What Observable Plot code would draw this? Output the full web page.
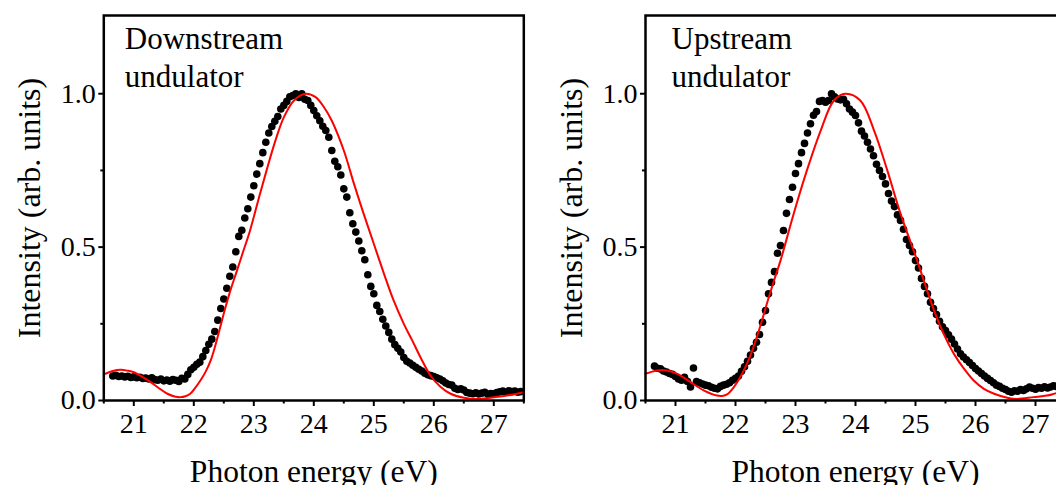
<!DOCTYPE html>
<html><head><meta charset="utf-8">
<script src="https://cdn.jsdelivr.net/npm/d3@7"></script>
<script src="https://cdn.jsdelivr.net/npm/@observablehq/plot@0.6"></script>
<style>
html,body{margin:0;padding:0;background:#fff;overflow:hidden;width:1056px;height:485px;}
#wrap{position:relative;width:1056px;height:485px;overflow:hidden;background:#fff;}
.panel{position:absolute;top:0;width:540px;height:485px;}
#wrap svg{max-width:none !important;font-family:"Liberation Serif","Times New Roman",Times,serif !important;}
#wrap svg text, #wrap svg tspan{font-family:"Liberation Serif","Times New Roman",Times,serif !important;}
</style></head>
<body><div id="wrap"><div id="p1" class="panel" style="left:0px"></div><div id="p2" class="panel" style="left:540px"></div></div>
<script>
// Photon energies of the measured points (eV)
const energies = [
  20.65,20.70,20.75,20.80,20.85,20.90,20.95,21.00,21.05,21.10,
  21.15,21.20,21.25,21.30,21.35,21.40,21.45,21.50,21.55,21.60,
  21.65,21.70,21.75,21.80,21.85,21.90,21.95,22.00,22.05,22.10,
  22.15,22.20,22.25,22.30,22.35,22.40,22.45,22.50,22.55,22.60,
  22.65,22.70,22.75,22.80,22.85,22.90,22.95,23.00,23.05,23.10,
  23.15,23.20,23.25,23.30,23.35,23.40,23.45,23.50,23.55,23.60,
  23.65,23.70,23.75,23.80,23.85,23.90,23.95,24.00,24.05,24.10,
  24.15,24.20,24.25,24.30,24.35,24.40,24.45,24.50,24.55,24.60,
  24.65,24.70,24.75,24.80,24.85,24.90,24.95,25.00,25.05,25.10,
  25.15,25.20,25.25,25.30,25.35,25.40,25.45,25.50,25.55,25.60,
  25.65,25.70,25.75,25.80,25.85,25.90,25.95,26.00,26.05,26.10,
  26.15,26.20,26.25,26.30,26.35,26.40,26.45,26.50,26.55,26.60,
  26.65,26.70,26.75,26.80,26.85,26.90,26.95,27.00,27.05,27.10,
  27.15,27.20,27.25,27.30,27.35,27.40,27.45
];
// Downstream undulator: measured intensity
const downstreamMeasured = [
  0.080,0.082,0.078,0.080,0.077,0.079,0.075,0.077,0.074,0.076,
  0.072,0.073,0.070,0.074,0.068,0.066,0.070,0.064,0.067,0.063,
  0.068,0.066,0.062,0.072,0.070,0.085,0.100,0.108,0.118,0.125,
  0.143,0.163,0.183,0.200,0.225,0.262,0.300,0.331,0.366,0.405,
  0.435,0.485,0.535,0.555,0.595,0.625,0.663,0.700,0.738,0.772,
  0.808,0.842,0.872,0.893,0.910,0.926,0.950,0.962,0.975,0.990,
  0.994,1.000,0.988,1.000,0.982,0.978,0.962,0.945,0.928,0.912,
  0.894,0.880,0.858,0.815,0.780,0.762,0.735,0.690,0.663,0.612,
  0.576,0.549,0.520,0.488,0.459,0.410,0.372,0.348,0.310,0.290,
  0.265,0.243,0.222,0.200,0.182,0.170,0.158,0.140,0.128,0.122,
  0.115,0.108,0.102,0.096,0.089,0.084,0.081,0.078,0.074,0.070,
  0.064,0.057,0.052,0.050,0.040,0.036,0.038,0.034,0.026,0.024,
  0.022,0.025,0.021,0.024,0.027,0.020,0.023,0.022,0.026,0.028,
  0.031,0.027,0.032,0.029,0.031,0.027,0.029
];
// Upstream undulator: measured intensity
const upstreamMeasured = [
  0.112,0.105,0.103,0.096,0.093,0.088,0.085,0.078,0.070,0.066,
  0.076,0.062,0.044,0.106,0.062,0.058,0.054,0.050,0.048,0.043,
  0.040,0.038,0.046,0.050,0.053,0.058,0.066,0.072,0.080,0.095,
  0.110,0.128,0.148,0.170,0.190,0.215,0.255,0.293,0.348,0.385,
  0.420,0.480,0.505,0.554,0.610,0.655,0.695,0.740,0.772,0.808,
  0.838,0.872,0.902,0.930,0.942,0.975,0.978,0.972,0.978,1.000,
  0.990,0.983,0.980,0.982,0.967,0.950,0.940,0.929,0.905,0.878,
  0.862,0.842,0.820,0.798,0.770,0.750,0.730,0.706,0.675,0.650,
  0.632,0.605,0.587,0.558,0.525,0.505,0.485,0.456,0.432,0.398,
  0.372,0.348,0.320,0.300,0.280,0.258,0.240,0.228,0.214,0.200,
  0.184,0.168,0.152,0.142,0.133,0.124,0.114,0.104,0.096,0.088,
  0.080,0.072,0.065,0.058,0.050,0.046,0.040,0.036,0.030,0.027,
  0.032,0.030,0.036,0.033,0.038,0.044,0.040,0.037,0.042,0.040,
  0.045,0.041,0.044,0.048,0.046,0.044,0.047
];
// Calculated spectra (red curves)
const downstreamCalcE = [20.50,20.65,20.78,20.90,21.00,21.15,21.28,21.42,21.56,21.68,21.78,21.86,21.94,22.02,22.11,22.20,22.28,22.36,22.44,22.52,22.61,22.70,22.80,22.94,23.08,23.22,23.36,23.50,23.67,23.86,24.03,24.17,24.30,24.50,24.67,24.83,25.00,25.17,25.33,25.50,25.64,25.78,25.95,26.11,26.28,26.50,26.72,26.94,27.22,27.50];
const downstreamCalcV = [0.085,0.096,0.100,0.097,0.092,0.076,0.060,0.040,0.022,0.013,0.011,0.014,0.022,0.040,0.065,0.095,0.130,0.180,0.239,0.298,0.359,0.412,0.472,0.556,0.657,0.755,0.847,0.923,0.978,1.000,0.989,0.956,0.912,0.815,0.706,0.609,0.511,0.413,0.326,0.250,0.196,0.140,0.080,0.045,0.022,0.009,0.005,0.009,0.016,0.027];
const upstreamCalcE = [20.50,20.69,20.86,21.03,21.25,21.47,21.69,21.78,21.86,21.97,22.11,22.25,22.39,22.53,22.64,22.75,22.97,23.19,23.42,23.64,23.83,24.08,24.31,24.53,24.75,25.03,25.14,25.31,25.47,25.64,25.81,25.97,26.14,26.31,26.53,26.69,26.97,27.19,27.35,27.50];
const upstreamCalcV = [0.087,0.098,0.098,0.087,0.060,0.033,0.016,0.015,0.020,0.043,0.087,0.147,0.228,0.320,0.390,0.456,0.609,0.750,0.880,0.978,1.000,0.978,0.880,0.750,0.609,0.455,0.390,0.293,0.217,0.152,0.103,0.065,0.038,0.022,0.009,0.005,0.011,0.016,0.024,0.030];

const xMajorTicks = [21, 22, 23, 24, 25, 26, 27];
const xMinorTicks = [20.5, 21.5, 22.5, 23.5, 24.5, 25.5, 26.5, 27.5];
const yMajorTicks = [0, 0.5, 1.0];
const yMinorTicks = [0.25, 0.75];
const xTitle = "Photon energy (eV)";
const yTitle = "Intensity (arb. units)";
const serif = '"Liberation Serif", "Times New Roman", Times, serif';

function panel(el, cfg) {
  const dots = energies.map((e, i) => ({e, v: cfg.measured[i]}));
  const fit = cfg.calcE.map((e, i) => ({e, v: cfg.calcV[i]}));
  const W = 540, plotW = 420;
  const chart = Plot.plot({
    width: W, height: 485,
    marginLeft: cfg.ml, marginRight: W - cfg.ml - plotW, marginTop: 15, marginBottom: 85,
    style: {fontFamily: serif, color: "black", background: "white", overflow: "visible", maxWidth: "none"},
    x: {domain: [20.5, 27.5], label: null},
    y: {domain: [0, 1.255], label: null},
    marks: [
      Plot.dot(dots, {x: "e", y: "v", r: 3.8, fill: "black", stroke: "none"}),
      Plot.line(fit, {x: "e", y: "v", stroke: "#ff0000", strokeWidth: 2, curve: "catmull-rom"}),
      Plot.frame({stroke: "black", strokeWidth: 2.5}),
      Plot.axisX(xMajorTicks, {tickSize: 6, tickPadding: 7, fontSize: 28, fontFamily: serif, strokeWidth: 2, label: null, tickFormat: d => String(d)}),
      Plot.axisX(xMinorTicks, {tickSize: 3.5, strokeWidth: 2, label: null, tickFormat: () => ""}),
      Plot.axisY(yMajorTicks, {tickSize: 5, tickPadding: 3, fontSize: 28, fontFamily: serif, strokeWidth: 2, label: null, tickFormat: d3.format(".1f")}),
      Plot.axisY(yMinorTicks, {tickSize: 3, strokeWidth: 2, label: null, tickFormat: () => ""}),
      Plot.text([xTitle], {text: d => d, frameAnchor: "bottom", dy: 81.5, lineAnchor: "bottom", textAnchor: "middle", fontSize: 31.5, fontFamily: serif, fill: "black"}),
      Plot.text([yTitle], {text: d => d, frameAnchor: "left", dx: -64, rotate: -90, lineAnchor: "bottom", textAnchor: "middle", fontSize: 32, fontFamily: serif, fill: "black"}),
      Plot.text([cfg.label1], {text: d => d, frameAnchor: "top-left", dx: cfg.tdx, dy: 33.3, lineAnchor: "bottom", textAnchor: "start", fontSize: 31, fontFamily: serif, fill: "black"}),
      Plot.text([cfg.label2], {text: d => d, frameAnchor: "top-left", dx: cfg.tdx, dy: 71.7, lineAnchor: "bottom", textAnchor: "start", fontSize: 31, fontFamily: serif, fill: "black"})
    ]
  });
  el.appendChild(chart);
}

panel(document.getElementById("p1"), {measured: downstreamMeasured, calcE: downstreamCalcE, calcV: downstreamCalcV, ml: 103.3, tdx: 21, label1: "Downstream", label2: "undulator"});
panel(document.getElementById("p2"), {measured: upstreamMeasured, calcE: upstreamCalcE, calcV: upstreamCalcV, ml: 105, tdx: 26, label1: "Upstream", label2: "undulator"});
</script>
</body></html>
